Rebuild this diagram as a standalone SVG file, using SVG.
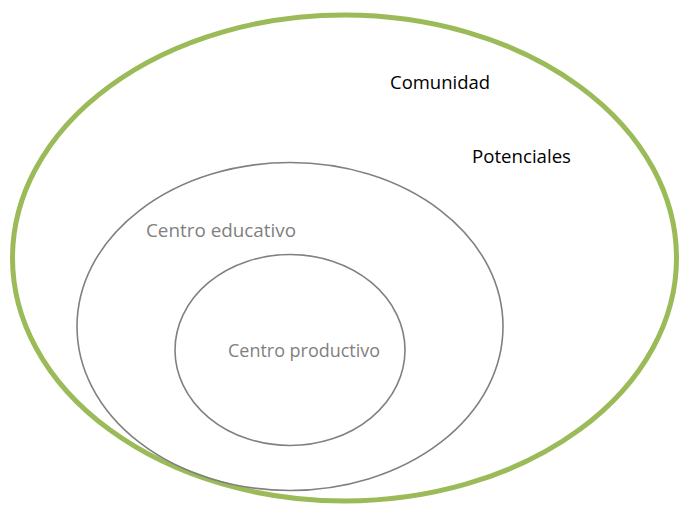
<svg xmlns="http://www.w3.org/2000/svg" width="681" height="506" viewBox="0 0 681 506">
<style>
.t{font-family:"Open Sans","Liberation Sans",sans-serif;font-size:17.5px}
.dark{fill:#000}
.gray{fill:#7f7f7f}
.ring{fill:none;stroke:#808080;stroke-width:1.6}
</style>
<rect width="681" height="506" fill="#fff"/>
<g id="comunidad">
<ellipse cx="344.5" cy="258" rx="332" ry="243" fill="none" stroke="#9bbb59" stroke-width="5"/>
<text class="t dark" x="390" y="89" textLength="100" lengthAdjust="spacingAndGlyphs">Comunidad</text>
<text class="t dark" x="472" y="163" textLength="99" lengthAdjust="spacingAndGlyphs">Potenciales</text>
</g>
<g id="centro-educativo">
<ellipse class="ring" cx="290" cy="326.5" rx="213" ry="164"/>
<text class="t gray" x="146" y="237" textLength="150" lengthAdjust="spacingAndGlyphs">Centro educativo</text>
</g>
<g id="centro-productivo">
<ellipse class="ring" cx="290" cy="350" rx="115" ry="95.5"/>
<text class="t gray" x="228" y="357" textLength="152" lengthAdjust="spacingAndGlyphs">Centro productivo</text>
</g>
<g id="connectors"/>
</svg>
